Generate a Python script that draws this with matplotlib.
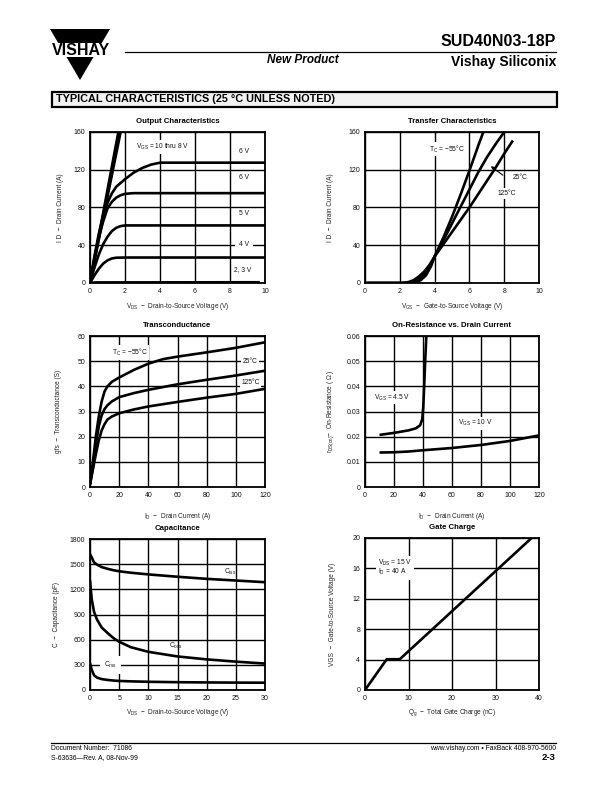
import matplotlib
matplotlib.use("Agg")
import matplotlib.pyplot as plt
from matplotlib.patches import Polygon, Rectangle

plt.rcParams['font.family'] = ['Liberation Sans', 'DejaVu Sans']
plt.rcParams['mathtext.fontset'] = 'custom'
plt.rcParams['mathtext.rm'] = 'Liberation Sans'
plt.rcParams['mathtext.it'] = 'Liberation Sans:italic'
plt.rcParams['mathtext.bf'] = 'Liberation Sans:bold'

# ---------------- data ----------------
# Output characteristics (VDS in V, ID in A)
out_steep_x = [[0, 1.62], [0, 1.68], [0, 1.75]]
out_steep_y = [[0, 160], [0, 160], [0, 160]]
out_7v_x = [0, 0.25, 0.5, 0.75, 1, 1.25, 1.5, 2, 2.5, 3, 3.5, 4, 10]
out_7v_y = [0, 28, 52, 71, 85, 95, 102, 110, 117, 122, 125.5, 127.5, 127.5]
out_6v_x = [0, 0.25, 0.5, 0.75, 1, 1.25, 1.5, 1.75, 2, 2.5, 10]
out_6v_y = [0, 26, 48, 65, 79, 86, 90.5, 93, 94.5, 95.2, 95.2]
out_5v_x = [0, 0.25, 0.5, 0.75, 1, 1.25, 1.5, 1.75, 2, 10]
out_5v_y = [0, 16, 30, 41, 49, 55, 58.5, 60.3, 61, 61]
out_4v_x = [0, 0.25, 0.5, 0.75, 1, 1.25, 1.5, 2, 10]
out_4v_y = [0, 8, 15, 20.5, 24, 26, 26.8, 27, 27]
out_3v_x = [0, 0.3, 9.7]
out_3v_y = [0, 0.6, 0.8]

# Transfer characteristics (VGS in V, ID in A)
tr_m55_x = [0, 2.6, 2.9, 3.2, 3.5, 3.8, 4, 4.5, 5, 5.5, 6, 6.5, 6.8]
tr_m55_y = [0, 0, 1, 3, 8, 18, 28, 48, 70, 94, 119, 145, 160]
tr_25_x = [0, 2.3, 2.7, 3.0, 3.3, 3.6, 4, 4.5, 5, 5.5, 6, 6.5, 7, 7.5, 8]
tr_25_y = [0, 0, 1, 3, 7, 14, 28, 45, 63, 81, 99, 117, 133, 147, 160]
tr_125_x = [0, 2.1, 2.5, 2.8, 3.1, 3.4, 3.7, 4, 4.5, 5, 5.5, 6, 6.5, 7, 7.5, 8, 8.5]
tr_125_y = [0, 0, 1, 3, 7, 12, 19, 28, 41, 54, 67, 80, 94, 108, 122, 137, 151]

# Transconductance (ID in A, gfs in S)
gfs_id = [0, 2, 4, 6, 8, 10, 12, 15, 20, 30, 40, 50, 60, 80, 100, 120]
gfs_m55 = [1, 10, 20, 28, 34, 38, 40, 41.8, 43.5, 46.5, 49, 50.8, 51.8, 53.5, 55.3, 57.5]
gfs_25 = [1, 8, 17, 24, 28.5, 31, 32.5, 34, 35.7, 37.3, 38.6, 39.7, 40.8, 42.6, 44.3, 46.2]
gfs_125 = [1, 7, 13, 18.5, 22.5, 25, 26.8, 28, 29.3, 30.8, 32, 32.9, 33.8, 35.5, 37, 39]

# On-resistance (ID in A, rDS(on) in ohm)
ron45_id = [10, 20, 30, 35, 38, 39.5, 40.2, 40.8, 41.5, 42.3]
ron45_r = [0.0207, 0.0215, 0.0225, 0.0233, 0.0245, 0.027, 0.032, 0.040, 0.050, 0.060]
ron10_id = [10, 20, 30, 40, 60, 80, 100, 120]
ron10_r = [0.0137, 0.0138, 0.0141, 0.0146, 0.0155, 0.0167, 0.0183, 0.0205]

# Capacitance (VDS in V, C in pF)
cap_v = [0, 0.3, 0.7, 1.2, 2, 3, 4, 5, 7, 10, 15, 20, 25, 30]
ciss = [1620, 1580, 1520, 1495, 1465, 1445, 1428, 1415, 1398, 1378, 1350, 1325, 1305, 1285]
coss = [1310, 1080, 930, 840, 745, 680, 620, 575, 510, 455, 400, 365, 338, 315]
crss = [320, 240, 175, 148, 130, 120, 113, 108, 103, 98, 93, 90, 88, 87]

# Gate charge (Qg in nC, VGS in V)
qg = [0, 5, 8, 38.3]
vgs = [0, 4.05, 4.05, 20]

# ticks
out_xt = [0, 2, 4, 6, 8, 10]
out_yt = [0, 40, 80, 120, 160]
gfs_xt = [0, 20, 40, 60, 80, 100, 120]
gfs_yt = [0, 10, 20, 30, 40, 50, 60]
ron_yt = [0, 0.01, 0.02, 0.03, 0.04, 0.05, 0.06]
ron_ytl = ["0", "0.01", "0.02", "0.03", "0.04", "0.05", "0.06"]
cap_xt = [0, 5, 10, 15, 20, 25, 30]
cap_yt = [0, 300, 600, 900, 1200, 1500, 1800]
gc_xt = [0, 10, 20, 30, 40]
gc_yt = [0, 4, 8, 12, 16, 20]

# ---------------- figure ----------------
W, H = 612, 792
fig = plt.figure(figsize=(W / 100, H / 100), dpi=100)

bg = fig.add_axes([0, 0, 1, 1])
bg.set_xlim(0, W)
bg.set_ylim(H, 0)
bg.axis('off')

# logo
bg.add_patch(Polygon([[50, 29], [110, 29], [80, 80]], closed=True, fc='black', ec='none'))
bg.add_patch(Rectangle((48, 43), 64, 14, fc='white', ec='none'))
bg.text(81, 50.5, "VISHAY", ha='center', va='center', fontsize=11.5, fontweight='bold',
        color='black')
# header
bg.plot([125, 556], [51.5, 51.5], color='black', lw=0.9)
bg.text(556, 41, "SUD40N03-18P", ha='right', va='center', fontsize=11.5, fontweight='bold')
bg.text(556, 62, "Vishay Siliconix", ha='right', va='center', fontsize=10, fontweight='bold')
bg.text(303, 60, "New Product", ha='center', va='center', fontsize=8.5, fontweight='bold',
        style='italic')
# banner
bg.add_patch(Rectangle((52, 92), 505, 14.5, fc='#f2f2f2', ec='black', lw=1.6))
bg.text(56, 99.5, "TYPICAL CHARACTERISTICS (25 °C UNLESS NOTED)", ha='left', va='center',
        fontsize=7.8, fontweight='bold')
# footer
bg.plot([51, 556], [742.5, 742.5], color='black', lw=0.9)
bg.text(51, 749, "Document Number:  71086", ha='left', va='center', fontsize=4.9)
bg.text(51, 757.5, "S-63636—Rev. A, 08-Nov-99", ha='left', va='center', fontsize=4.9)
bg.text(556, 749, "www.vishay.com • FaxBack 408-970-5600", ha='right', va='center', fontsize=4.9)
bg.text(556, 758, "2-3", ha='right', va='center', fontsize=6.8, fontweight='bold')

TICK_FS = 5.0
LAB_FS = 4.7
TITLE_FS = 5.6
LW = 1.9
GRID_LW = 1.0


def make_ax(l, r, t, b, title, xlabel, ylabel, xlim, ylim, xt, yt, ylab_x, xlab_y, ytl=None):
    ax = fig.add_axes([l / W, 1 - b / H, (r - l) / W, (b - t) / H])
    ax.set_xlim(*xlim)
    ax.set_ylim(*ylim)
    ax.set_xticks(xt)
    ax.set_yticks(yt)
    if ytl is not None:
        ax.set_yticklabels(ytl)
    ax.tick_params(length=0, pad=3.5, labelsize=TICK_FS, colors='#111111')
    ax.grid(True, color='black', lw=GRID_LW)
    ax.set_axisbelow(True)
    for s in ax.spines.values():
        s.set_linewidth(1.3)
    ax.set_title(title, fontsize=TITLE_FS, fontweight='bold', pad=6.5)
    ax.set_xlabel(xlabel, fontsize=LAB_FS, color='#222222')
    ax.set_ylabel(ylabel, fontsize=LAB_FS, color='#222222')
    ax.xaxis.set_label_coords(0.5, -(xlab_y - b) / (b - t))
    ax.xaxis.label.set_va('center')
    ax.yaxis.set_label_coords(-(l - ylab_x) / (r - l), 0.5)
    ax.yaxis.label.set_va('center')
    return ax


box = dict(facecolor='white', edgecolor='none', pad=1.2)
lkw = dict(color='black', lw=LW, solid_capstyle='butt', solid_joinstyle='round', zorder=3)
tkw = dict(fontsize=4.8, color='#111111', zorder=4)

# 1. Output characteristics
ax1 = make_ax(90, 265, 132, 283, "Output Characteristics",
              r"V$_{\rm DS}$  −  Drain-to-Source Voltage (V)", r"I D  −  Drain Current (A)",
              (0, 10), (0, 160), out_xt, out_yt, 60, 307)
for xs, ys in zip(out_steep_x, out_steep_y):
    ax1.plot(xs, ys, **lkw)
for xs, ys in [(out_7v_x, out_7v_y), (out_6v_x, out_6v_y), (out_5v_x, out_5v_y),
               (out_4v_x, out_4v_y), (out_3v_x, out_3v_y)]:
    ax1.plot(xs, ys, **lkw)
ax1.text(2.6, 144, r"V$_{\rm GS}$ = 10 thru 8 V", ha='left', va='center', bbox=box, **tkw)
ax1.text(8.8, 139, "6 V", ha='center', va='center', **tkw)
ax1.text(8.8, 112, "6 V", ha='center', va='center', **tkw)
ax1.text(8.8, 74, "5 V", ha='center', va='center', **tkw)
ax1.text(8.8, 41, "4 V", ha='center', va='center', bbox=dict(facecolor='white', edgecolor='none', pad=3), **tkw)
ax1.text(8.7, 14, "2, 3 V", ha='center', va='center', bbox=box, **tkw)

# 2. Transfer characteristics
ax2 = make_ax(365, 539, 132, 283, "Transfer Characteristics",
              r"V$_{\rm GS}$  −  Gate-to-Source Voltage (V)", r"I D  −  Drain Current (A)",
              (0, 10), (0, 160), out_xt, out_yt, 330, 307)
for xs, ys in [(tr_m55_x, tr_m55_y), (tr_25_x, tr_25_y), (tr_125_x, tr_125_y)]:
    ax2.plot(xs, ys, **lkw)
ax2.text(3.7, 142, r"T$_{\rm C}$ = −55°C", ha='left', va='center', bbox=box, **tkw)
ax2.text(8.5, 112, "25°C", ha='left', va='center', bbox=box, **tkw)
ax2.text(7.6, 95, "125°C", ha='left', va='center', bbox=box, **tkw)
ax2.annotate("", xy=(7.1, 125.5), xytext=(8.05, 112.5),
             arrowprops=dict(arrowstyle='-|>', color='black', lw=0.8, mutation_scale=4),
             zorder=5)

# 3. Transconductance
ax3 = make_ax(90, 265, 336, 487, "Transconductance",
              r"I$_{\rm D}$  −  Drain Current (A)", r"gfs  −  Transconductance (S)",
              (0, 120), (0, 60), gfs_xt, gfs_yt, 58, 517)
for ys in [gfs_m55, gfs_25, gfs_125]:
    ax3.plot(gfs_id, ys, **lkw)
ax3.text(15, 53.5, r"T$_{\rm C}$ = −55°C", ha='left', va='center', bbox=box, **tkw)
ax3.text(110, 50, "25°C", ha='center', va='center', bbox=box, **tkw)
ax3.text(110, 41.5, "125°C", ha='center', va='center', bbox=box, **tkw)

# 4. On-resistance
ax4 = make_ax(365, 539, 336, 487, "On-Resistance vs. Drain Current",
              r"I$_{\rm D}$  −  Drain Current (A)", r"r$_{\rm DS(on)}$−  On-Resistance ( Ω )",
              (0, 120), (0, 0.06), gfs_xt, ron_yt, 331, 517, ytl=ron_ytl)
ax4.plot(ron45_id, ron45_r, **lkw)
ax4.plot(ron10_id, ron10_r, **lkw)
ax4.text(6, 0.0355, r"V$_{\rm GS}$ = 4.5 V", ha='left', va='center', bbox=box, **tkw)
ax4.text(64, 0.0253, r"V$_{\rm GS}$ = 10 V", ha='left', va='center', bbox=box, **tkw)

# 5. Capacitance
ax5 = make_ax(90, 265, 539, 690, "Capacitance",
              r"V$_{\rm DS}$  −  Drain-to-Source Voltage (V)", r"C  −  Capacitance (pF)",
              (0, 30), (0, 1800), cap_xt, cap_yt, 57, 713)
for ys in [ciss, coss, crss]:
    ax5.plot(cap_v, ys, **lkw)
ax5.text(24, 1410, r"C$_{\rm iss}$", ha='center', va='center', **tkw)
ax5.text(14.7, 524, r"C$_{\rm oss}$", ha='center', va='center', **tkw)
ax5.text(3.5, 298, r"C$_{\rm rss}$", ha='center', va='center',
         bbox=dict(facecolor='white', edgecolor='none', pad=3), **tkw)

# 6. Gate charge
ax6 = make_ax(365, 539, 538, 690, "Gate Charge",
              r"Q$_{\rm g}$  −  Total Gate Charge (nC)", r"VGS  −  Gate-to-Source Voltage (V)",
              (0, 40), (0, 20), gc_xt, gc_yt, 332, 713)
ax6.plot(qg, vgs, **lkw)
ax6.text(2.9, 16.1, "V$_{\\rm DS}$ = 15 V\nI$_{\\rm D}$ = 40 A", ha='left', va='center',
         linespacing=0.9, bbox=dict(facecolor='white', edgecolor='none', pad=1.5), **tkw)

fig.savefig("out.png", dpi=100)
